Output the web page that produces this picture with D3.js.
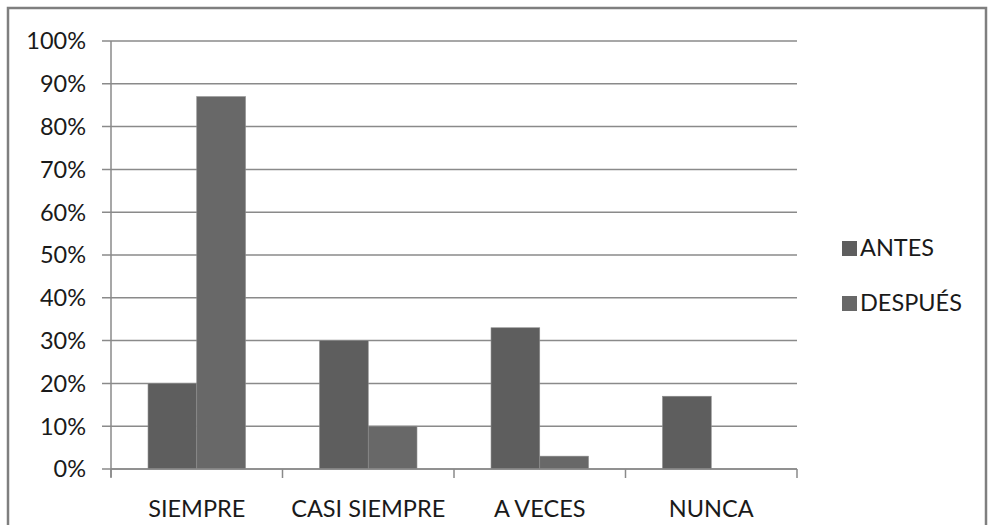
<!DOCTYPE html>
<html>
<head>
<meta charset="utf-8">
<script src="https://cdn.jsdelivr.net/npm/d3@7"></script>
<style>
  html, body { margin: 0; padding: 0; background: #fff; }
  svg { display: block; }
  text { font-family: Lato, "Open Sans", sans-serif; fill: #1a1a1a; }
</style>
</head>
<body>
<svg id="chart" width="988" height="525"></svg>
<script>
const categories = ["SIEMPRE", "CASI SIEMPRE", "A VECES", "NUNCA"];
const seriesNames = ["ANTES", "DESPUÉS"];
const antes = [20, 30, 33, 17];
const despues = [87, 10, 3, 0];
const yTicks = [0, 10, 20, 30, 40, 50, 60, 70, 80, 90, 100];
const colors = ["#5e5e5e", "#686868"];

const svg = d3.select("#chart");
const W = 988, H = 525;
const plot = { left: 111, right: 797, top: 41, bottom: 469 };

// outer frame
svg.append("rect")
  .attr("x", 8).attr("y", 8)
  .attr("width", W - 10).attr("height", H + 10)
  .attr("fill", "#fff").attr("stroke", "#7f7f7f").attr("stroke-width", 2.5);

const x = d3.scaleBand().domain(categories).range([plot.left, plot.right]).paddingInner(0).paddingOuter(0);
const y = d3.scaleLinear().domain([0, 100]).range([plot.bottom, plot.top]);
const inner = d3.scaleBand().domain(seriesNames).range([0, x.bandwidth()]).paddingInner(0).paddingOuter(0.76);

// gridlines
svg.append("g").selectAll("line").data(yTicks).join("line")
  .attr("x1", plot.left - 9).attr("x2", plot.right)
  .attr("y1", d => y(d)).attr("y2", d => y(d))
  .attr("stroke", "#8a8a8a").attr("stroke-width", 1.5);

// y axis labels
svg.append("g").selectAll("text").data(yTicks).join("text")
  .attr("x", 86).attr("y", d => y(d))
  .attr("dy", "0.36em").attr("text-anchor", "end")
  .attr("font-size", 23.5)
  .text(d => d + "%");

// bars
const series = [antes, despues];
const g = svg.append("g");
categories.forEach((c, i) => {
  seriesNames.forEach((s, j) => {
    const v = series[j][i];
    if (v <= 0) return;
    g.append("rect")
      .attr("x", x(c) + inner(s))
      .attr("y", y(v))
      .attr("width", inner.bandwidth())
      .attr("height", y(0) - y(v))
      .attr("fill", colors[j])
      .attr("stroke", "#8c8c8c").attr("stroke-width", 0.6);
  });
});

// axes lines
svg.append("line").attr("x1", plot.left).attr("x2", plot.left)
  .attr("y1", plot.top).attr("y2", plot.bottom + 8)
  .attr("stroke", "#8a8a8a").attr("stroke-width", 1.5);
svg.append("line").attr("x1", plot.left).attr("x2", plot.right)
  .attr("y1", plot.bottom).attr("y2", plot.bottom)
  .attr("stroke", "#8a8a8a").attr("stroke-width", 1.5);
const xTickPos = categories.map(c => x(c)).concat([x(categories[categories.length - 1]) + x.bandwidth()]);
svg.append("g").selectAll("line").data(xTickPos).join("line")
  .attr("x1", d => d).attr("x2", d => d)
  .attr("y1", plot.bottom).attr("y2", plot.bottom + 9)
  .attr("stroke", "#8a8a8a").attr("stroke-width", 1.5);

// x labels
svg.append("g").selectAll("text").data(categories).join("text")
  .attr("x", d => x(d) + x.bandwidth() / 2)
  .attr("y", 517)
  .attr("text-anchor", "middle")
  .attr("font-size", 23.5)
  .text(d => d);

// legend
const legend = svg.append("g");
seriesNames.forEach((s, j) => {
  const ly = 248 + j * 55;
  legend.append("rect")
    .attr("x", 842).attr("y", ly - 7).attr("width", 15).attr("height", 15)
    .attr("fill", colors[j]);
  legend.append("text")
    .attr("x", 860).attr("y", ly).attr("dy", "0.36em")
    .attr("font-size", 23.5)
    .text(s);
});
</script>
</body>
</html>
